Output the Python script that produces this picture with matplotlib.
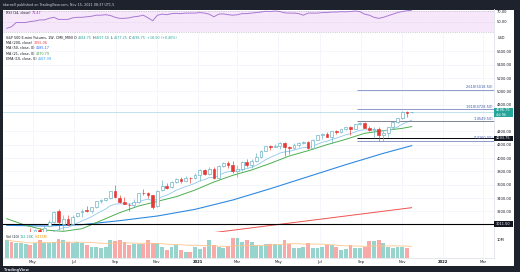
import numpy as np
import pandas as pd
import matplotlib
matplotlib.use('Agg')
import matplotlib.pyplot as plt
import matplotlib.dates as mdates
from matplotlib.patches import Rectangle

# weekly ES1! bars starting 2020-03-23
weeks = pd.date_range('2020-03-23', periods=87, freq='7D')
opens = [2250, 2500, 2520, 2770, 2830, 2830, 2800, 2915, 2860, 2980,
         3040, 3200, 3010, 3090, 3010, 3130, 3190, 3220, 3210, 3270,
         3350, 3370, 3400, 3510, 3400, 3340, 3300, 3290, 3340, 3480,
         3470, 3440, 3280, 3520, 3580, 3560, 3640, 3690, 3660, 3700,
         3700, 3740, 3820, 3760, 3840, 3700, 3880, 3930, 3900, 3810,
         3830, 3935, 3900, 3960, 4010, 4110, 4180, 4170, 4175, 4225,
         4165, 4150, 4200, 4225, 4240, 4150, 4275, 4345, 4360, 4320,
         4400, 4390, 4430, 4465, 4440, 4505, 4530, 4455, 4425, 4440,
         4345, 4380, 4460, 4535, 4595, 4690, 4684.75]
highs = [2631, 2600, 2818, 2880, 2870, 2954, 2930, 2950, 2980, 3070,
         3210, 3230, 3150, 3150, 3140, 3180, 3240, 3280, 3270, 3350,
         3390, 3400, 3510, 3588, 3440, 3420, 3330, 3390, 3480, 3540,
         3490, 3450, 3520, 3670, 3620, 3650, 3700, 3710, 3730, 3720,
         3770, 3830, 3830, 3860, 3870, 3890, 3940, 3950, 3950, 3900,
         3950, 3980, 3980, 4080, 4120, 4185, 4190, 4215, 4235, 4235,
         4180, 4220, 4240, 4255, 4260, 4285, 4350, 4370, 4390, 4410,
         4420, 4440, 4470, 4480, 4510, 4545, 4540, 4480, 4460, 4460,
         4410, 4460, 4550, 4600, 4700, 4710, 4697.50]
lows = [2174, 2420, 2500, 2720, 2710, 2800, 2790, 2760, 2850, 2970,
        3030, 2930, 2920, 2990, 3000, 3110, 3110, 3190, 3180, 3250,
        3320, 3350, 3380, 3400, 3320, 3310, 3200, 3260, 3330, 3440,
        3400, 3230, 3270, 3500, 3540, 3550, 3620, 3630, 3650, 3620,
        3690, 3650, 3750, 3740, 3690, 3690, 3870, 3850, 3780, 3720,
        3800, 3860, 3850, 3940, 4000, 4100, 4120, 4160, 4140, 4030,
        4060, 4140, 4170, 4215, 4140, 4140, 4265, 4290, 4320, 4220,
        4360, 4380, 4420, 4350, 4430, 4490, 4450, 4410, 4300, 4260,
        4260, 4320, 4450, 4520, 4590, 4620, 4677.25]
closes = [2529, 2480, 2780, 2868, 2830, 2820, 2920, 2850, 2950, 3040,
          3190, 3040, 3080, 3000, 3120, 3180, 3210, 3210, 3265, 3350,
          3370, 3395, 3505, 3420, 3335, 3310, 3290, 3340, 3470, 3475,
          3450, 3260, 3500, 3575, 3550, 3635, 3690, 3660, 3700, 3695,
          3745, 3820, 3760, 3840, 3700, 3880, 3930, 3900, 3810, 3830,
          3935, 3900, 3960, 4010, 4110, 4180, 4170, 4175, 4225, 4165,
          4150, 4200, 4225, 4240, 4150, 4275, 4345, 4360, 4320, 4400,
          4390, 4430, 4465, 4440, 4505, 4530, 4455, 4425, 4440, 4345,
          4380, 4460, 4535, 4595, 4690, 4678, 4696.75]
volume_m = [10.0, 9.0, 8.5, 8.1, 7.7, 7.1, 8.1, 10.0, 8.1, 8.1,
            9.0, 10.6, 10.0, 8.7, 8.5, 9.0, 8.1, 7.1, 6.2, 6.2,
            5.6, 6.2, 10.0, 9.2, 10.0, 9.0, 7.1, 7.5, 7.5, 7.5,
            10.0, 8.5, 8.1, 6.2, 4.3, 6.2, 7.1, 4.3, 3.4, 3.4,
            6.2, 5.0, 6.0, 10.0, 7.0, 6.2, 5.8, 6.5, 11.0, 11.0,
            9.0, 10.0, 9.0, 7.0, 6.5, 7.5, 7.8, 7.5, 7.0, 10.0,
            8.0, 5.5, 5.5, 6.0, 8.1, 5.5, 5.5, 6.2, 7.0, 7.4,
            6.2, 4.3, 5.0, 7.4, 5.5, 5.5, 6.2, 9.4, 9.4, 9.8,
            8.1, 6.2, 5.5, 6.2, 5.9, 5.7, 0.11]
rsi = [37, 40, 48, 48, 48, 50, 51, 53, 53, 56,
       58, 54, 54, 54, 57, 58, 58, 59, 60, 62,
       62, 63, 61.5, 58, 56, 56, 57, 59, 60, 62,
       57, 51.5, 62, 64, 63, 65, 65.5, 65, 66, 66,
       66, 67, 66, 64, 59, 64, 64.5, 63, 62, 63,
       65, 65, 66, 67, 68, 69.5, 69, 70, 69, 66.5,
       66, 66, 65, 62, 66, 66, 66, 67, 67, 68,
       68, 68.7, 68.5, 69, 70, 68.7, 64, 62, 58, 56,
       58, 61, 64, 67, 69, 70.5, 71.47]

# moving averages that need history before the window
ma21_dates = ['2020-03-23', '2020-04-20', '2020-05-18', '2020-06-15', '2020-07-13',
              '2020-08-10', '2020-09-07', '2020-10-05', '2020-11-02', '2020-11-30',
              '2020-12-28', '2021-01-25', '2021-02-22', '2021-03-22', '2021-04-19',
              '2021-05-17', '2021-06-14', '2021-07-12', '2021-08-09', '2021-09-06',
              '2021-10-04', '2021-11-01', '2021-11-15']
ma21_vals = [3090, 2990, 2920, 2900, 2940, 3060, 3180, 3280, 3350, 3420,
             3520, 3640, 3740, 3820, 3920, 4030, 4110, 4200, 4280, 4370,
             4410, 4445, 4470.79]
ma50_dates = ['2020-03-23', '2020-05-18', '2020-07-13', '2020-09-07', '2020-11-02',
              '2020-12-28', '2021-02-22', '2021-04-19', '2021-06-14', '2021-08-09',
              '2021-10-04', '2021-11-15']
ma50_vals = [2990, 2980, 3000, 3060, 3130, 3230, 3370, 3540, 3720, 3900, 4070, 4185.17]
ma200_dates = ['2020-03-23', '2020-09-07', '2021-02-01', '2021-06-07', '2021-11-15']
ma200_vals = [2560, 2700, 2890, 3050, 3255.06]

fib_levels = [5018.50, 4728.50, 4549.50, 4260.00]
fib_labels = ['2.618(5018.50)', '1.618(4728.50)', '1(4549.50)', '0(4260.00)']
price_ticks = [3200, 3400, 3600, 3800, 4000, 4200, 4400, 4800, 5000, 5200, 5400, 5600]
month_ticks = ['2020-05-01', '2020-07-01', '2020-09-01', '2020-11-01', '2021-01-01', '2021-03-01',
               '2021-05-01', '2021-07-01', '2021-09-01', '2021-11-01', '2022-01-01', '2022-03-01']
month_labels = ['May', 'Jul', 'Sep', 'Nov', '2021', 'Mar', 'May', 'Jul', 'Sep', 'Nov', '2022', 'Mar']

W, H = 520, 272
def fx(p):
    return p / W
def fy(p):
    return 1 - p / H

dark = '#1e222d'
txt = '#131722'
up_c = '#62aec4'
dn_c = '#e53935'
grid_c = '#f0f3fa'

fig = plt.figure(figsize=(5.2, 2.72), dpi=100, facecolor=dark)
fig.add_artist(Rectangle((fx(3), fy(266)), fx(514) - fx(3), fy(9.5) - fy(266),
                         transform=fig.transFigure, facecolor='white', edgecolor='none', zorder=-5))

x0, x1 = fx(3), fx(494) - fx(3)
ax_rsi = fig.add_axes([x0, fy(33), x1, fy(9.5) - fy(33)])
ax = fig.add_axes([x0, fy(232), x1, fy(33) - fy(232)], sharex=ax_rsi)
ax_vol = fig.add_axes([x0, fy(258), x1, fy(232) - fy(258)], sharex=ax_rsi)

xd = mdates.date2num(weeks)
xmin = mdates.date2num(pd.Timestamp('2020-03-17 10:00'))
xmax = mdates.date2num(pd.Timestamp('2022-03-17 10:00'))
mt = mdates.date2num(pd.to_datetime(month_ticks))

for a in (ax_rsi, ax, ax_vol):
    a.set_facecolor('white')
    for s in ('top', 'left'):
        a.spines[s].set_visible(False)
    a.spines['right'].set_color('#e0e3eb')
    a.spines['bottom'].set_color('#e0e3eb')
    a.spines['right'].set_linewidth(0.6)
    a.spines['bottom'].set_linewidth(0.6)
    for m in mt:
        a.axvline(m, color=grid_c, lw=0.5, zorder=0)
    a.tick_params(length=0)
ax.set_xlim(xmin, xmax)

# RSI pane
ax_rsi.set_ylim(28.1, 72.86)
ax_rsi.axhspan(30, 70, color='#f6e8fa', lw=0, zorder=0.5)
ax_rsi.axhline(70, color='#b0a8b8', lw=0.4, ls=(0, (2, 2)))
ax_rsi.axhline(30, color='#b0a8b8', lw=0.4, ls=(0, (2, 2)))
ax_rsi.axhline(50, color='#c8c0d0', lw=0.4, ls=(0, (1, 2)))
ax_rsi.plot(xd, rsi, color='#a878d4', lw=0.7)
ax_rsi.yaxis.tick_right()
ax_rsi.set_yticks([70, 50])
ax_rsi.set_yticklabels(['70.00', '50.00'], fontsize=2.6, color=txt)
ax_rsi.tick_params(axis='y', pad=2)
ax_rsi.tick_params(axis='x', labelbottom=False)

# price pane
ax.set_ylim(2890, 5875)
for p in price_ticks:
    ax.axhline(p, color=grid_c, lw=0.5, zorder=0)
ax.yaxis.tick_right()
ax.set_yticks(price_ticks)
ax.set_yticklabels(['%.2f' % p for p in price_ticks], fontsize=2.6, color=txt)
ax.tick_params(axis='y', pad=2)
ax.tick_params(axis='x', labelbottom=False)

ax.axhline(4696.75, color='#a8d8e6', lw=0.5, zorder=1)
ax.axhline(3011.50, color='black', lw=0.8, zorder=3)

ema10 = pd.Series(closes).ewm(span=10, adjust=False).mean()
ax.plot(mdates.date2num(pd.to_datetime(ma200_dates)), ma200_vals, color='#ef5350', lw=0.7, zorder=2)
ax.plot(mdates.date2num(pd.to_datetime(ma50_dates)), ma50_vals, color='#2f8ae0', lw=0.8, zorder=2)
ax.plot(mdates.date2num(pd.to_datetime(ma21_dates)), ma21_vals, color='#4caf50', lw=0.7, zorder=2)
ax.plot(xd, ema10, color='#90c8ee', lw=0.6, zorder=2)

bw = 4.2
for x, o, h, l, c in zip(xd, opens, highs, lows, closes):
    col = up_c if c >= o else dn_c
    ax.vlines(x, l, h, color=col, lw=0.45, zorder=4)
    ax.add_patch(Rectangle((x - bw / 2, min(o, c)), bw, max(abs(c - o), 4),
                           facecolor='white' if c >= o else col, edgecolor=col, lw=0.45, zorder=5))

fib_x = mdates.date2num(pd.Timestamp('2021-08-26'))
fib_cols = ['#7b8cc4', '#7b8cc4', '#6a7088', '#7b8cc4']
for lv, lb, fc in zip(fib_levels, fib_labels, fib_cols):
    ax.hlines(lv, fib_x, xmax, color=fc, lw=0.6, zorder=3)
    ax.text(xmax - 1.5, lv + 12, lb, fontsize=2.5, color='#3c5aa6', ha='right', va='bottom', zorder=6)
ax.hlines(4293.75, fib_x, xmax, color='black', lw=0.7, zorder=3)

# volume pane
ax_vol.set_ylim(0, 14.4)
vcols = ['#98d4ce' if c >= o else '#f7aaa8' for o, c in zip(opens, closes)]
ax_vol.bar(xd, volume_m, width=5.8, color=vcols, zorder=2)
vma = pd.Series(volume_m).rolling(20, min_periods=1).mean()
ax_vol.plot(xd, vma, color='#ffc58a', lw=0.6, zorder=3)
ax_vol.yaxis.tick_right()
ax_vol.set_yticks([10])
ax_vol.set_yticklabels(['10M'], fontsize=2.6, color=txt)
ax_vol.tick_params(axis='y', pad=2)
ax_vol.set_xticks(mt)
ax_vol.set_xticklabels(month_labels, fontsize=2.7, color=txt)
ax_vol.tick_params(axis='x', pad=1.3)
for t in ax_vol.get_xticklabels():
    if t.get_text() in ('2021', '2022'):
        t.set_fontweight('bold')

# badges on the price scale
def badge(y0, y1, bg, lines):
    fig.add_artist(Rectangle((fx(494), fy(y1)), fx(513) - fx(494), fy(y0) - fy(y1),
                             transform=fig.transFigure, facecolor=bg, edgecolor='none', zorder=10))
    for s, yy in lines:
        fig.text(fx(496), fy(yy), s, fontsize=2.5, color='white', va='center', zorder=11)

badge(107.5, 117, '#26a69a', [('4696.75', 110.2), ('4d 9h', 114.6)])
badge(135.6, 141.2, '#131722', [('4293.75', 138.4)])
badge(221.1, 226.7, '#131722', [('3011.50', 223.9)])
fig.text(fx(498), fy(38.3), 'USD', fontsize=2.5, color=txt, va='center', zorder=11)

# legends
renderer = fig.canvas.get_renderer()
def seg_text(x, y, parts, size=2.45, weight='normal'):
    for s, c in parts:
        t = fig.text(fx(x), fy(y), s, color=c, fontsize=size, va='center', ha='left',
                     fontweight=weight, zorder=12)
        x += t.get_window_extent(renderer=renderer).width + 1.0

teal = '#26a69a'
seg_text(3, 4.6, [('tdarnell published on TradingView.com, Nov 15, 2021 08:37 UTC-5', '#d1d4dc')], size=2.4)
seg_text(6, 13.5, [('RSI (14, close)', txt), ('71.47', '#9c27b0')])
seg_text(6, 37.8, [('S&P 500 E-mini Futures, 1W, CME_MINI', txt),
                   ('O', txt), ('4684.75', teal), ('H', txt), ('4697.50', teal),
                   ('L', txt), ('4677.25', teal), ('C', txt), ('4696.75', teal),
                   ('+18.50 (+0.40%)', teal)])
seg_text(6, 43.0, [('MA (200, close)', txt), ('3255.06', '#f23645')])
seg_text(6, 48.4, [('MA (50, close, 0)', txt), ('4185.17', '#2962ff')])
seg_text(6, 53.8, [('MA (21, close, 0)', txt), ('4470.79', '#43a047')])
seg_text(6, 59.2, [('EMA (10, close, 0)', txt), ('4567.39', '#2196f3')])
seg_text(6, 237.3, [('Vol (20)', txt), ('112.28K', teal), ('8.415M', '#ff9800')])
seg_text(4, 269.5, [('TradingView', '#d1d4dc')], size=2.6, weight='bold')

fig.savefig('out.png', dpi=100, facecolor=fig.get_facecolor())
